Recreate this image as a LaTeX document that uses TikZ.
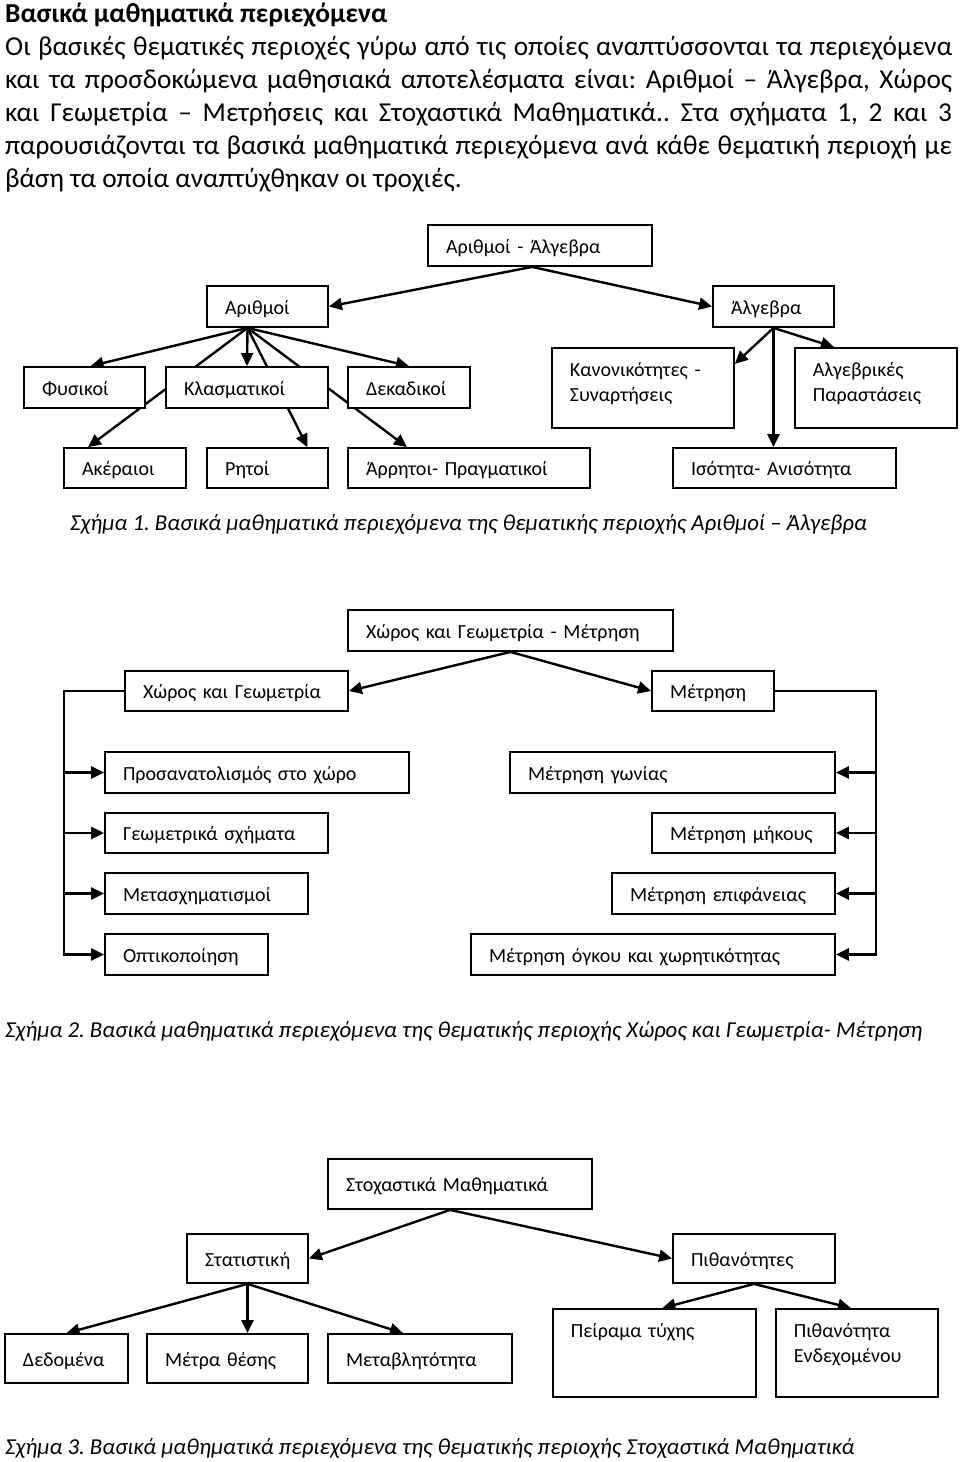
\documentclass[tikz,border=0pt]{standalone}
\usepackage{fontspec}
\setmainfont{Carlito}
\usetikzlibrary{arrows.meta,backgrounds,calc}
\frenchspacing
\newcommand\boxfont{\fontsize{20}{25}\selectfont}
\tikzset{
 bx/.style={draw, line width=1.8pt, fill=white, inner xsep=18pt, inner ysep=0pt, align=left, font=\boxfont},
 conn/.style={line width=2.4pt, -{Triangle[length=13pt,width=12pt]}},
 hdr/.style={anchor=base west, inner sep=0pt, font=\fontsize{27.3}{33}\selectfont},
 captext/.style={anchor=base west, inner sep=0pt, font=\fontsize{22.8}{27}\selectfont\itshape},
}
\newcommand\mkbox[6]{%
 \pgfmathsetmacro\bw{#4-#2-36}\pgfmathsetmacro\bh{#5-#3}%
 \node[bx, text width=\bw pt, text height=17pt, text depth=2pt, minimum height=\bh pt] (#1) at ({(#2+#4)/2},{(#3+#5)/2}) {#6};}
\newcommand\mktop[7]{%
 \pgfmathsetmacro\bw{#4-#2-36}\pgfmathsetmacro\th{#6-#3}\pgfmathsetmacro\td{#5-#6}%
 \node[bx, text width=\bw pt, text height=\th pt, text depth=\td pt, anchor=north west] (#1) at (#2,#3) {#7};}
\begin{document}
\frenchspacing
\begin{tikzpicture}[x=1pt,y=-1pt]
\useasboundingbox (0,0) rectangle (960,1462);
% header
\node[hdr, font=\fontsize{27.4}{33}\selectfont\bfseries] (title) at (5,22) {Βασικά μαθηματικά περιεχόμενα};
\node[hdr] (l1) at (5,55) {\makebox[947pt][s]{Οι βασικές θεματικές περιοχές γύρω από τις οποίες αναπτύσσονται τα περιεχόμενα}};
\node[hdr] (l2) at (5,88) {\makebox[947pt][s]{και τα προσδοκώμενα μαθησιακά αποτελέσματα είναι: Αριθμοί – Άλγεβρα, Χώρος}};
\node[hdr] (l3) at (5,121) {\makebox[947pt][s]{και Γεωμετρία – Μετρήσεις και Στοχαστικά Μαθηματικά.. Στα σχήματα 1, 2 και 3}};
\node[hdr] (l4) at (5,154) {\makebox[947pt][s]{παρουσιάζονται τα βασικά μαθηματικά περιεχόμενα ανά κάθε θεματική περιοχή με}};
\node[hdr] (l5) at (5,187) {βάση τα οποία αναπτύχθηκαν οι τροχιές.};
% figure 1
\mkbox{f1top}{428}{225}{652}{266}{Αριθμοί - Άλγεβρα}
\mkbox{arith}{207}{286}{328}{327}{Αριθμοί}
\mkbox{alg}{713}{286}{834}{327}{Άλγεβρα}
\mkbox{fys}{24}{367}{145}{408}{Φυσικοί}
\mkbox{klas}{166}{367}{328}{408}{Κλασματικοί}
\mkbox{dek}{348}{367}{470}{408}{Δεκαδικοί}
\mktop{kan}{551}{347}{733}{427}{376}{Κανονικότητες -\\Συναρτήσεις}
\mktop{algp}{794}{347}{956}{427}{376}{Αλγεβρικές\\Παραστάσεις}
\mkbox{ake}{64}{448}{186}{488}{Ακέραιοι}
\mkbox{rit}{207}{448}{328}{488}{Ρητοί}
\mkbox{arrn}{348}{448}{590}{488}{Άρρητοι- Πραγματικοί}
\mkbox{iso}{673}{448}{896}{488}{Ισότητα- Ανισότητα}
\node[captext] (cap1) at (70,530) {Σχήμα 1. Βασικά μαθηματικά περιεχόμενα της θεματικής περιοχής Αριθμοί – Άλγεβρα};
% figure 2
\mkbox{f2top}{348}{610}{673}{651}{Χώρος και Γεωμετρία - Μέτρηση}
\mkbox{geo}{125}{671}{348}{711}{Χώρος και Γεωμετρία}
\mkbox{met}{652}{671}{774}{711}{Μέτρηση}
\mkbox{pros}{105}{752}{409}{793}{Προσανατολισμός στο χώρο}
\mkbox{gsx}{105}{813}{328}{853}{Γεωμετρικά σχήματα}
\mkbox{metas}{105}{873}{308}{914}{Μετασχηματισμοί}
\mkbox{opt}{105}{934}{268}{975}{Οπτικοποίηση}
\mkbox{gon}{510}{752}{835}{793}{Μέτρηση γωνίας}
\mkbox{mik}{652}{813}{835}{853}{Μέτρηση μήκους}
\mkbox{epi}{612}{873}{835}{914}{Μέτρηση επιφάνειας}
\mkbox{vol}{471}{934}{835}{975}{Μέτρηση όγκου και χωρητικότητας}
\coordinate (L) at (64,700);
\coordinate (R) at (876,700);
\node[captext] (cap2) at (5,1037) {Σχήμα 2. Βασικά μαθηματικά περιεχόμενα της θεματικής περιοχής Χώρος και Γεωμετρία- Μέτρηση};
% figure 3
\mkbox{stox}{328}{1159}{592}{1209}{Στοχαστικά Μαθηματικά}
\mkbox{stat}{187}{1234}{308}{1283}{Στατιστική}
\mkbox{pith}{673}{1234}{835}{1283}{Πιθανότητες}
\mkbox{ded}{5}{1334}{128}{1383}{Δεδομένα}
\mkbox{mth}{147}{1334}{308}{1383}{Μέτρα θέσης}
\mkbox{var}{328}{1334}{512}{1383}{Μεταβλητότητα}
\mktop{pei}{552}{1308}{755}{1396}{1337}{Πείραμα τύχης}
\mktop{pen}{775}{1308}{937}{1396}{1337}{Πιθανότητα\\Ενδεχομένου}
\node[captext] (cap3) at (5,1454) {Σχήμα 3. Βασικά μαθηματικά περιεχόμενα της θεματικής περιοχής Στοχαστικά Μαθηματικά};
\begin{pgfonlayer}{background}
\fill[white] (0,0) rectangle (960,1462);
% fig 1
\coordinate (aS) at ([xshift=-20pt]arith.south);
\draw[conn] ([xshift=-8pt]f1top.south) -- (arith.east);
\draw[conn] ([xshift=-8pt]f1top.south) -- (alg.west);
\draw[conn] (aS) -- ([xshift=6pt]fys.north);
\draw[conn] (aS) -- (klas.north);
\draw[conn] (aS) -- (dek.north);
\draw[conn] (aS) -- ([xshift=-37pt]ake.north);
\draw[conn] (aS) -- ([xshift=40pt]rit.north);
\draw[conn] (aS) -- ([xshift=-62pt]arrn.north);
\draw[conn] (alg.south) -- ([yshift=24pt]kan.east);
\draw[conn] (alg.south) -- ([xshift=-42pt]algp.north);
\draw[conn] (alg.south) -- (alg.south |- iso.north);
% fig 2
\draw[conn] (f2top.south) -- (geo.east);
\draw[conn] (f2top.south) -- (met.west);
\draw[conn] (geo.west) -| (L |- opt.west) -- (opt.west);
\draw[conn] (L |- pros.west) -- (pros.west);
\draw[conn] (L |- gsx.west) -- (gsx.west);
\draw[conn] (L |- metas.west) -- (metas.west);
\draw[conn] (met.east) -| (R |- vol.east) -- (vol.east);
\draw[conn] (R |- gon.east) -- (gon.east);
\draw[conn] (R |- mik.east) -- (mik.east);
\draw[conn] (R |- epi.east) -- (epi.east);
% fig 3
\draw[conn] ([xshift=-10pt]stox.south) -- (stat.east);
\draw[conn] ([xshift=-10pt]stox.south) -- (pith.west);
\draw[conn] (stat.south) -- (ded.north);
\draw[conn] (stat.south) -- (stat.south |- mth.north);
\draw[conn] (stat.south) -- ([xshift=-17pt]var.north);
\draw[conn] (pith.south) -- ([xshift=8pt]pei.north);
\draw[conn] (pith.south) -- ([xshift=-6pt]pen.north);
\end{pgfonlayer}
\end{tikzpicture}
\end{document}
